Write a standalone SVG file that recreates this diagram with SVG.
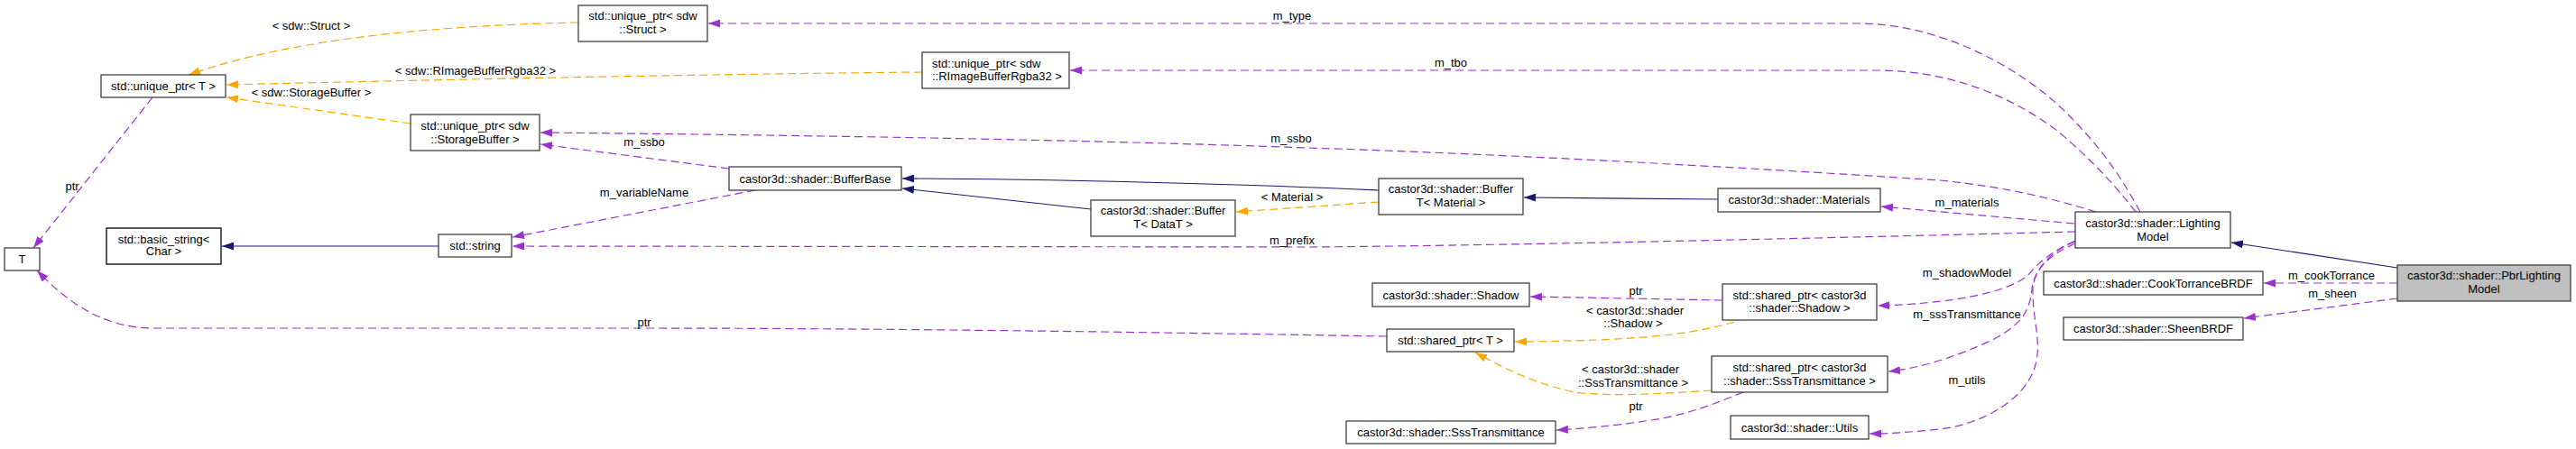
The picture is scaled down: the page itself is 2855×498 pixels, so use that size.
<svg xmlns="http://www.w3.org/2000/svg" width="2855" height="498" viewBox="0 0 2855 498">
<style>
text{font-family:"Liberation Sans",Arial,sans-serif;font-size:13px;fill:#000}
.n rect{fill:#fff;stroke:#404040;stroke-width:1.3}
.n text{text-anchor:middle}
.blk rect{stroke:#000}
.root rect{fill:#bfbfbf}
.e path{fill:none;stroke-width:1.2}
.u{stroke:#9a32cd;stroke-dasharray:9,5}
.t{stroke:#ffa500;stroke-dasharray:9,5}
.i{stroke:#191970}
.lbl{text-anchor:middle}
</style>
<defs>
<marker id="mu" viewBox="0 0 13 9" refX="13" refY="4.5" markerWidth="13" markerHeight="9" markerUnits="userSpaceOnUse" orient="auto"><path d="M0,0L13,4.5L0,9z" fill="#9a32cd"/></marker>
<marker id="mt" viewBox="0 0 13 9" refX="13" refY="4.5" markerWidth="13" markerHeight="9" markerUnits="userSpaceOnUse" orient="auto"><path d="M0,0L13,4.5L0,9z" fill="#ffa500"/></marker>
<marker id="mi" viewBox="0 0 13 9" refX="13" refY="4.5" markerWidth="13" markerHeight="9" markerUnits="userSpaceOnUse" orient="auto"><path d="M0,0L13,4.5L0,9z" fill="#191970"/></marker>
</defs>
<rect width="2855" height="498" fill="#fff"/>
<g id="edges" class="e">
<path class="u" marker-end="url(#mu)" d="M2372,235 C2345,185 2320,155 2290,125 C2240,75 2150,26 2060,26 L785,26"/>
<path class="u" marker-end="url(#mu)" d="M2367,235 C2340,200 2310,170 2280,145 C2220,100 2150,78 2080,78 L1186,78"/>
<path class="u" marker-end="url(#mu)" d="M2323,235 C2280,222 2230,208 2150,200 C2000,190 1700,172 1450,164 C1200,155 900,150 599,147"/>
<path class="u" marker-end="url(#mu)" d="M808,187 L599,160"/>
<path class="u" marker-end="url(#mu)" d="M837,211 L568,263"/>
<path class="u" marker-end="url(#mu)" d="M2300,257 C2100,262 1700,272 1450,274 L568,273"/>
<path class="u" marker-end="url(#mu)" d="M2299,248 L2085,229"/>
<path class="i" marker-end="url(#mi)" d="M1904,221 L1689,219"/>
<path class="i" marker-end="url(#mi)" d="M1528,211 C1400,205 1150,198 1000,198"/>
<path class="i" marker-end="url(#mi)" d="M1209,232 L1000,209"/>
<path class="t" marker-end="url(#mt)" d="M1528,224 L1370,235"/>
<path class="i" marker-end="url(#mi)" d="M486,273 L246,273"/>
<path class="t" marker-end="url(#mt)" d="M641,25 C500,28 330,40 209,83"/>
<path class="t" marker-end="url(#mt)" d="M1022,80 C800,82 500,88 251,94"/>
<path class="t" marker-end="url(#mt)" d="M455,137 L251,108"/>
<path class="u" marker-end="url(#mu)" d="M169,108 L37,275"/>
<path class="u" marker-end="url(#mu)" d="M1537,373 C1300,369 1000,364 700,364 L170,364 C110,364 70,330 41,300"/>
<path class="i" marker-end="url(#mi)" d="M2657,297 L2473,269"/>
<path class="u" marker-end="url(#mu)" d="M2657,314 L2509,314"/>
<path class="u" marker-end="url(#mu)" d="M2657,331 L2487,353"/>
<path class="u" marker-end="url(#mu)" d="M2300,267 C2275,278 2258,292 2248,305 C2225,325 2160,337 2081,339"/>
<path class="u" marker-end="url(#mu)" d="M2300,268 C2270,280 2255,300 2252,320 C2250,345 2240,360 2210,376 C2170,395 2130,408 2093,412"/>
<path class="u" marker-end="url(#mu)" d="M2300,270 C2270,283 2254,300 2253,320 C2252,350 2262,375 2257,400 C2250,440 2200,470 2150,476 C2110,480 2090,481 2072,481"/>
<path class="u" marker-end="url(#mu)" d="M1909,333 L1696,329"/>
<path class="t" marker-end="url(#mt)" d="M1922,357 C1880,370 1820,378 1679,379"/>
<path class="t" marker-end="url(#mt)" d="M1897,433 C1840,437 1780,440 1745,435 C1700,425 1670,410 1635,391"/>
<path class="u" marker-end="url(#mu)" d="M1932,435 C1900,448 1870,460 1830,466 C1790,472 1760,475 1725,477"/>
<g class="lbl">
<text x="1432" y="22">m_type</text>
<text x="1608" y="74">m_tbo</text>
<text x="1431" y="158">m_ssbo</text>
<text x="714" y="162">m_ssbo</text>
<text x="714" y="218">m_variableName</text>
<text x="1432" y="271">m_prefix</text>
<text x="2180" y="229">m_materials</text>
<text x="1432" y="223">&lt; Material &gt;</text>
<text x="345" y="33">&lt; sdw::Struct &gt;</text>
<text x="527" y="83">&lt; sdw::RImageBufferRgba32 &gt;</text>
<text x="345" y="107">&lt; sdw::StorageBuffer &gt;</text>
<text x="80" y="211">ptr</text>
<text x="714" y="362">ptr</text>
<text x="2584" y="310">m_cookTorrance</text>
<text x="2585" y="330">m_sheen</text>
<text x="2180" y="307">m_shadowModel</text>
<text x="2180" y="353">m_sssTransmittance</text>
<text x="2180" y="426">m_utils</text>
<text x="1813" y="327">ptr</text>
<text x="1812" y="349">&lt; castor3d::shader</text>
<text x="1810" y="363">::Shadow &gt;</text>
<text x="1807" y="414">&lt; castor3d::shader</text>
<text x="1810" y="429">::SssTransmittance &gt;</text>
<text x="1813" y="455">ptr</text>
</g>
</g>
<g id="n_T" class="n"><rect x="5" y="275" width="39" height="25"/><text x="24.5" y="292">T</text></g>
<g id="n_unique_ptr_T" class="n"><rect x="112" y="83" width="138" height="25"/><text x="181" y="100">std::unique_ptr&lt; T &gt;</text></g>
<g id="n_basic_string" class="n blk"><rect x="118" y="253" width="127" height="40"/><text x="181.5" y="270">std::basic_string&lt;</text><text x="181.5" y="283">Char &gt;</text></g>
<g id="n_unique_ptr_storagebuffer" class="n"><rect x="455" y="127" width="143" height="40"/><text x="526.5" y="144">std::unique_ptr&lt; sdw</text><text x="526.5" y="159">::StorageBuffer &gt;</text></g>
<g id="n_string" class="n"><rect x="486" y="260" width="81" height="25"/><text x="526.5" y="277">std::string</text></g>
<g id="n_unique_ptr_struct" class="n"><rect x="641" y="6" width="143" height="40"/><text x="712.5" y="22">std::unique_ptr&lt; sdw</text><text x="712.5" y="37">::Struct &gt;</text></g>
<g id="n_bufferbase" class="n"><rect x="808" y="185" width="191" height="26"/><text x="903.5" y="203">castor3d::shader::BufferBase</text></g>
<g id="n_unique_ptr_rimage" class="n"><rect x="1022" y="58" width="163" height="40"/><text x="1033" y="75" style="text-anchor:start">std::unique_ptr&lt; sdw</text><text x="1033" y="89" style="text-anchor:start">::RImageBufferRgba32 &gt;</text></g>
<g id="n_buffer_datat" class="n"><rect x="1209" y="222" width="160" height="40"/><text x="1289" y="238">castor3d::shader::Buffer</text><text x="1289" y="253">T&lt; DataT &gt;</text></g>
<g id="n_buffer_material" class="n"><rect x="1528" y="198" width="160" height="40"/><text x="1608" y="214">castor3d::shader::Buffer</text><text x="1608" y="229">T&lt; Material &gt;</text></g>
<g id="n_materials" class="n"><rect x="1904" y="209" width="180" height="26"/><text x="1994" y="226">castor3d::shader::Materials</text></g>
<g id="n_shadow" class="n"><rect x="1521" y="314" width="174" height="26"/><text x="1608" y="332">castor3d::shader::Shadow</text></g>
<g id="n_shared_ptr_T" class="n"><rect x="1537" y="365" width="141" height="25"/><text x="1607.5" y="382">std::shared_ptr&lt; T &gt;</text></g>
<g id="n_ssstransmittance" class="n"><rect x="1492" y="467" width="232" height="25"/><text x="1608" y="484">castor3d::shader::SssTransmittance</text></g>
<g id="n_shared_ptr_shadow" class="n"><rect x="1909" y="315" width="171" height="40"/><text x="1994.5" y="332">std::shared_ptr&lt; castor3d</text><text x="1994.5" y="346">::shader::Shadow &gt;</text></g>
<g id="n_shared_ptr_sss" class="n"><rect x="1897" y="395" width="195" height="40"/><text x="1994.5" y="412">std::shared_ptr&lt; castor3d</text><text x="1994.5" y="427">::shader::SssTransmittance &gt;</text></g>
<g id="n_utils" class="n"><rect x="1918" y="461" width="153" height="26"/><text x="1994.5" y="479">castor3d::shader::Utils</text></g>
<g id="n_lightingmodel" class="n"><rect x="2300" y="235" width="172" height="40"/><text x="2386" y="252">castor3d::shader::Lighting</text><text x="2386" y="267">Model</text></g>
<g id="n_cooktorrance" class="n"><rect x="2265" y="301" width="243" height="26"/><text x="2386.5" y="319">castor3d::shader::CookTorranceBRDF</text></g>
<g id="n_sheen" class="n"><rect x="2287" y="352" width="199" height="25"/><text x="2386.5" y="369">castor3d::shader::SheenBRDF</text></g>
<g id="n_pbrlightingmodel" class="n root"><rect x="2657" y="294" width="192" height="40"/><text x="2753" y="310">castor3d::shader::PbrLighting</text><text x="2753" y="325">Model</text></g>
</svg>
